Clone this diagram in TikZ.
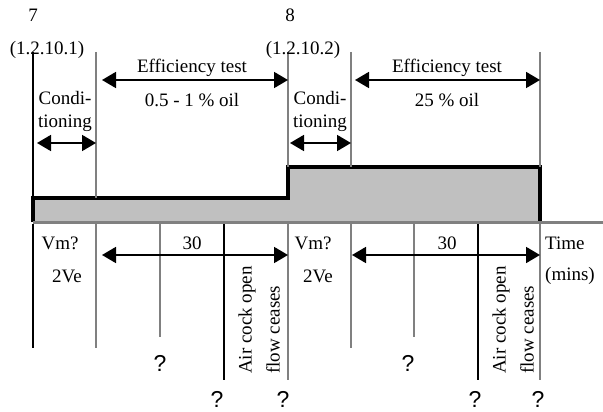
\documentclass[tikz,border=0pt]{standalone}
\usepackage{fontspec}
\setmainfont{Liberation Serif}
\newfontfamily\qfont{Liberation Sans}
\usepackage{tikz}
\usetikzlibrary{arrows.meta,positioning,calc}
\definecolor{cfill}{RGB}{192,192,192}
\definecolor{cline}{RGB}{128,128,128}

\begin{document}
\begin{tikzpicture}[
  x=1pt, y=-1pt,
  font=\fontsize{19}{23}\selectfont,
  lbl/.style={inner sep=0pt, align=center},
  qm/.style={inner sep=0pt, font=\qfont\fontsize{23}{25}\selectfont},
  blk/.style={black, line width=2pt},
  gry/.style={cline, line width=2.6pt},
  dim/.style={{Triangle[length=14pt,width=16pt]}-{Triangle[length=14pt,width=16pt]}, line width=1.8pt},
]
\useasboundingbox (0,0) rectangle (603,412);

% ---- column positions ----
\coordinate (ta) at (33,52);  \coordinate (tb) at (96,52);
\coordinate (tc) at (288,52); \coordinate (td) at (351,52);
\coordinate (te) at (540,52);

% ---- flow profile ----
\fill[cfill] (33,198) -- (288,198) -- (288,167) -- (540,167) -- (540,222) -- (33,222) -- cycle;
\draw[line width=3.5pt, line join=miter] (33,222) -- (33,198) -- (288,198) -- (288,167) -- (540,167) -- (540,222);
\coordinate (ax0) at (33,222);
\coordinate (ax1) at (603,222);
\draw[gry, line width=3pt] (ax0) -- (ax1);

% ---- upper markers ----
\draw[blk] (ta) -- (33,198);
\draw[gry] (tb) -- (96,198);
\draw[gry] (tc) -- (288,167);
\draw[gry] (td) -- (351,167);
\draw[gry] (te) -- (540,167);

\node[lbl] (n7) at (33,15) {7};
\node[lbl] (n8) at (290,15) {8};
\node[lbl] (s1) at (47,50) {(1.2.10.1)};
\node[lbl] (s2) at (303,50) {(1.2.10.2)};

\node[lbl] (eff1) at (192,68) {Efficiency test};
\node[lbl] (oil1) at (192,100) {0.5 - 1 \% oil};
\node[lbl] (eff2) at (447,68) {Efficiency test};
\node[lbl] (oil2) at (447,100) {25 \% oil};
\node[lbl] (con1) at (65,111) {Condi-\\tioning};
\node[lbl] (con2) at (320,111) {Condi-\\tioning};

\draw[dim] (37,143) -- (96,143);
\draw[dim] (290,143) -- (351,143);
\draw[dim] (102,80) -- (288,80);
\draw[dim] (355,80) -- (540,80);

% ---- lower markers ----
\draw[blk] (33,224) -- (33,348);
\draw[gry] (96,224) -- (96,348);
\draw[gry] (160,224) -- (160,337);
\draw[blk] (224,224) -- (224,380);
\draw[gry] (288,224) -- (288,380);
\draw[gry] (351,224) -- (351,348);
\draw[gry] (414,224) -- (414,337);
\draw[blk] (478,224) -- (478,380);
\draw[gry] (540,224) -- (540,380);

\draw[dim] (102,255) -- (288,255);
\draw[dim] (352,255) -- (540,255);

\node[lbl] (vm1) at (60,243) {Vm?};
\node[lbl] (ve1) at (67,276) {2Ve};
\node[lbl] (vm2) at (313,243) {Vm?};
\node[lbl] (ve2) at (318,276) {2Ve};
\node[lbl] (t1) at (192,243) {30};
\node[lbl] (t2) at (447,243) {30};
\node[lbl, anchor=west] (time) at (545,243) {Time};
\node[lbl, anchor=west] (mins) at (545,276) {(mins)};

\node[lbl, align=left, rotate=90, anchor=west] (air1) at (259,374) {Air cock open\\[5pt]flow ceases};
\node[lbl, align=left, rotate=90, anchor=west] (air2) at (513,374) {Air cock open\\[5pt]flow ceases};

\node[qm] (q1) at (160,363) {?};
\node[qm] (q2) at (217,399) {?};
\node[qm] (q3) at (283,399) {?};
\node[qm] (q4) at (408,363) {?};
\node[qm] (q5) at (475,399) {?};
\node[qm] (q6) at (538,399) {?};
\end{tikzpicture}
\end{document}
